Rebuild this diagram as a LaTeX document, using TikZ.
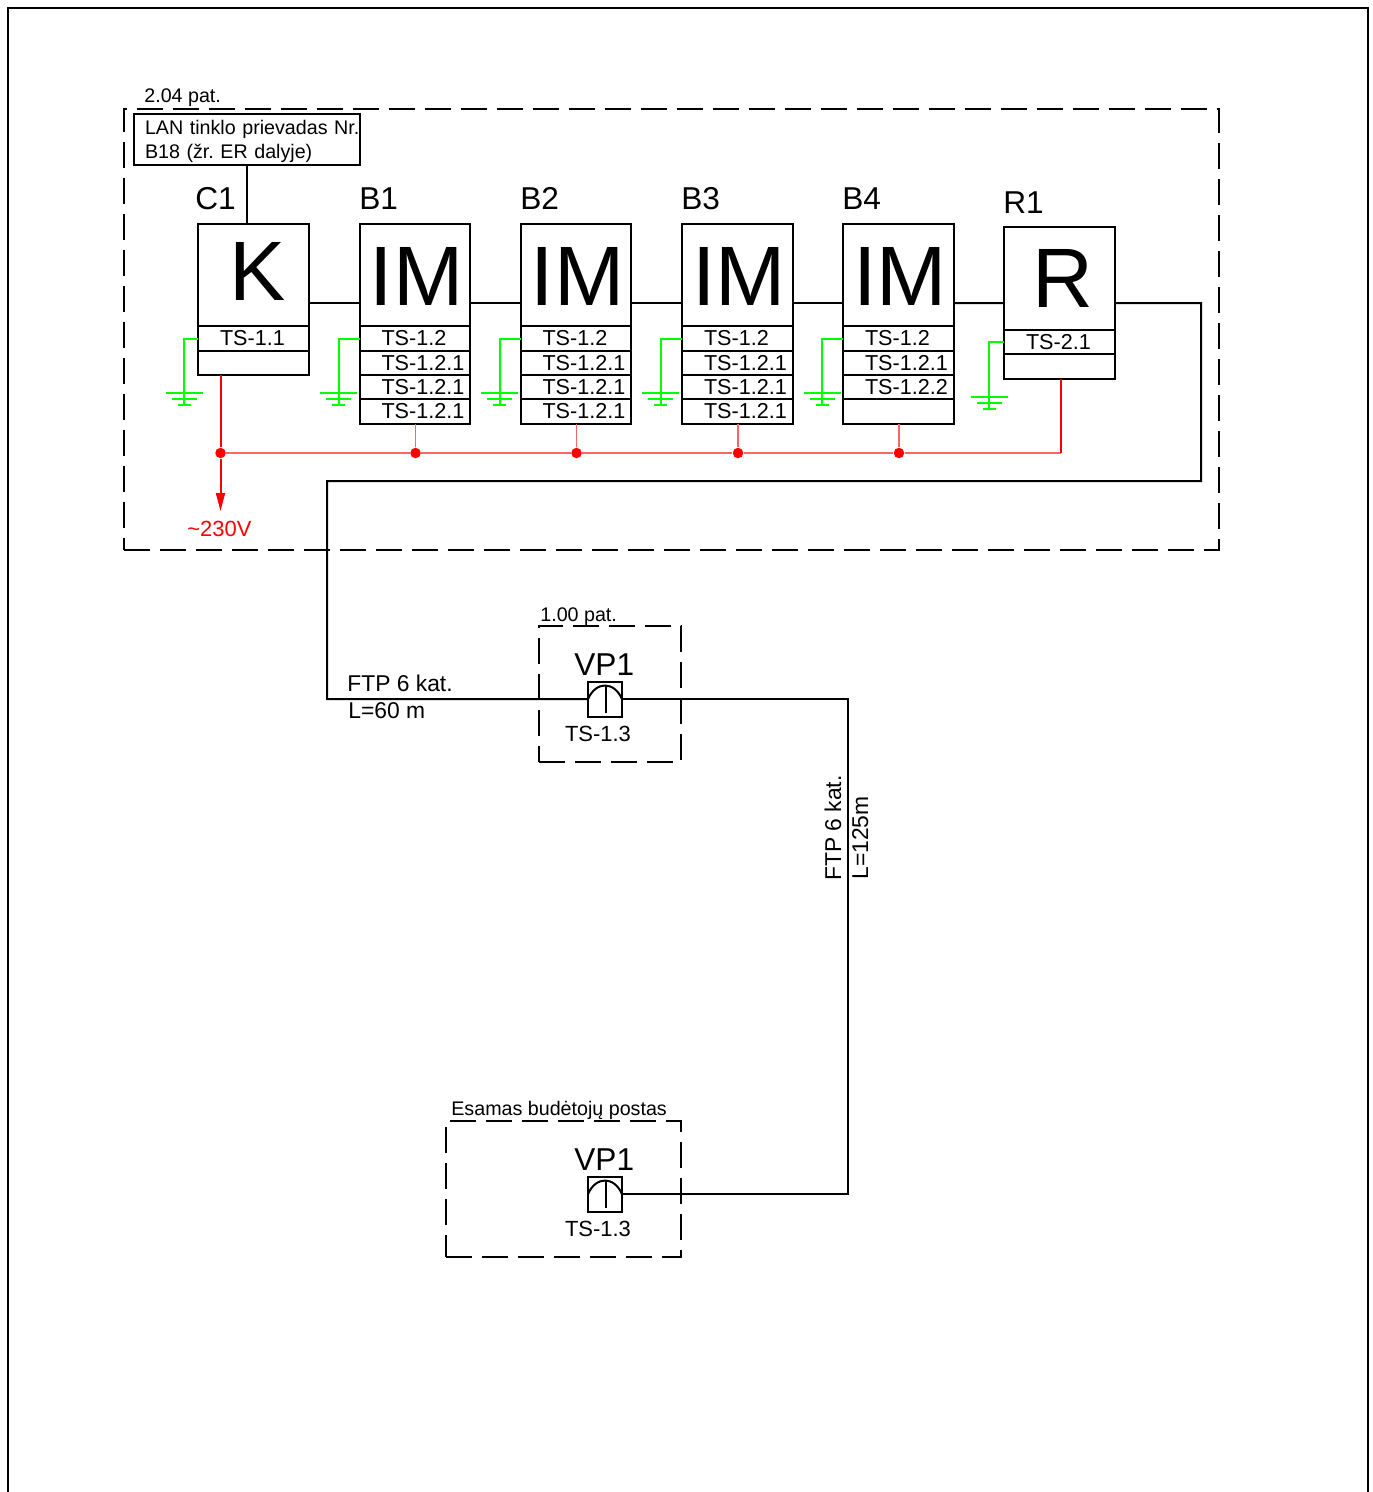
\documentclass[tikz,border=0pt]{standalone}
\usepackage{fontspec}
\setmainfont{Liberation Sans}
\usetikzlibrary{arrows.meta}
\definecolor{redlight}{RGB}{255,100,100}
\tikzset{
  wire/.style={line width=0.04cm,black},
  redthick/.style={line width=0.04cm,red},
  redthin/.style={line width=0.03cm,redlight},
  earthline/.style={line width=0.04cm,green},
  room/.style={draw,line width=0.04cm,dash pattern=on 0.52cm off 0.2cm,inner sep=0pt,outer sep=0pt},
  head/.style={draw,line width=0.04cm,minimum width=2.22cm,inner sep=0pt,outer sep=0pt},
  cell/.style={draw,line width=0.04cm,minimum height=0.49cm,text width=2.22cm,inner xsep=0pt,inner ysep=0pt,outer sep=0pt,align=left,font=\fontsize{12.3}{14}\selectfont,execute at begin node={\hspace*{0.44cm}}},
  bigletter/.style={inner sep=0pt,font=\fontsize{48}{50}\selectfont},
  devname/.style={anchor=base west,inner sep=0pt,font=\fontsize{18}{20}\selectfont},
  small/.style={anchor=base west,inner sep=0pt,font=\fontsize{11.2}{13}\selectfont},
  cablelabel/.style={anchor=base west,inner sep=0pt,font=\fontsize{13}{15}\selectfont},
  dot/.style={circle,fill=red,inner sep=0pt,minimum size=0.21cm},
  socket/.style={draw,line width=0.04cm,minimum width=0.68cm,minimum height=0.7cm,inner sep=0pt,outer sep=0pt},
  pics/earth/.style={code={
    \draw[earthline] (-18.5,-12)-- (18.5,-12);
    \draw[earthline] (-12.5,-6)-- (12.5,-6);
    \draw[earthline] (-6.5,0)-- (6.5,0);
  }}
}
\begin{document}
\begin{tikzpicture}[line cap=butt,line join=miter,x=0.02cm,y=-0.02cm]
\useasboundingbox (0,0) rectangle (1373,1492);
\draw[wire] (8,1492)-- (8,8)-- (1368,8)-- (1368,1492);
% rooms
\node[room,minimum width=21.9cm,minimum height=8.82cm] (room1) at (671.5,329.5) {};
\node[room,minimum width=2.84cm,minimum height=2.72cm] (room2) at (610,694) {};
\node[room,minimum width=4.7cm,minimum height=2.72cm] (room3) at (563.5,1189) {};
\node[small] (room1t) at (144,102) {2.04 pat.};
\node[small] (room2t) at (540,621) {1.00 pat.};
\node[small] (room3t) at (451,1115) {Esamas budėtojų postas};
% LAN
\node[draw,line width=0.04cm,minimum width=4.52cm,minimum height=1.02cm,text width=4.52cm,inner xsep=0pt,inner ysep=0pt,outer sep=0pt,align=left,font=\fontsize{11.2}{13.66}\selectfont] (lan) at (247,139.5) {\rule{0pt}{10.4pt}\hspace*{0.22cm}LAN tinklo prievadas Nr.\\\hspace*{0.22cm}B18 (žr.\ ER dalyje)};
% C1
\node[devname] (c1n) at (195,209) {C1};
\node[head,minimum height=2.04cm] (c1) at (253.5,275) {};
\node[bigletter] (c1t) at (258,271.5) {K};
\node[cell] (c1a) at (253.5,338.5) {TS-1.1};
\node[cell] (c1b) at (253.5,363) {};
% B1
\node[devname] (b1n) at (359,209) {B1};
\node[head,minimum height=2.04cm] (b1) at (415,275) {};
\node[bigletter] (b1t) at (416.5,276.5) {IM};
\node[cell] (b1a) at (415,338.5) {TS-1.2};
\node[cell] (b1b) at (415,363) {TS-1.2.1};
\node[cell] (b1c) at (415,387) {TS-1.2.1};
\node[cell] (b1d) at (415,411.5) {TS-1.2.1};
% B2
\node[devname] (b2n) at (520,209) {B2};
\node[head,minimum height=2.04cm] (b2) at (576,275) {};
\node[bigletter] (b2t) at (577.5,276.5) {IM};
\node[cell] (b2a) at (576,338.5) {TS-1.2};
\node[cell] (b2b) at (576,363) {TS-1.2.1};
\node[cell] (b2c) at (576,387) {TS-1.2.1};
\node[cell] (b2d) at (576,411.5) {TS-1.2.1};
% B3
\node[devname] (b3n) at (681,209) {B3};
\node[head,minimum height=2.04cm] (b3) at (737.5,275) {};
\node[bigletter] (b3t) at (739,276.5) {IM};
\node[cell] (b3a) at (737.5,338.5) {TS-1.2};
\node[cell] (b3b) at (737.5,363) {TS-1.2.1};
\node[cell] (b3c) at (737.5,387) {TS-1.2.1};
\node[cell] (b3d) at (737.5,411.5) {TS-1.2.1};
% B4
\node[devname] (b4n) at (842,209) {B4};
\node[head,minimum height=2.04cm] (b4) at (898.5,275) {};
\node[bigletter] (b4t) at (900,276.5) {IM};
\node[cell] (b4a) at (898.5,338.5) {TS-1.2};
\node[cell] (b4b) at (898.5,363) {TS-1.2.1};
\node[cell] (b4c) at (898.5,387) {TS-1.2.2};
\node[cell] (b4d) at (898.5,411.5) {};
% R1
\node[devname] (r1n) at (1003,213) {R1};
\node[head,minimum height=2.06cm] (r1) at (1059.5,278.5) {};
\node[bigletter] (r1t) at (1063,278.5) {R};
\node[cell] (r1a) at (1059.5,342) {TS-2.1};
\node[cell] (r1b) at (1059.5,366.5) {};
% sockets
\node[devname] (vp1n) at (574,675) {VP1};
\node[socket] (vp1) at (605,699) {};
\node[inner sep=0pt,font=\fontsize{12.5}{14}\selectfont] (vp1t) at (598,734) {TS-1.3};
\node[devname] (vp2n) at (574,1170) {VP1};
\node[socket] (vp2) at (605,1194) {};
\node[inner sep=0pt,font=\fontsize{12.5}{14}\selectfont] (vp2t) at (598,1229) {TS-1.3};
\draw[wire] (vp1.west) .. controls +(8,-18) and +(-8,-18) .. (vp1.east);
\draw[wire] (606,686)-- (606,713);
\draw[wire] (vp2.west) .. controls +(8,-18) and +(-8,-18) .. (vp2.east);
\draw[wire] (606,1181)-- (606,1208);
% cables
\coordinate (t1) at (1201,303);
\coordinate (t2) at (1201,481);
\coordinate (t3) at (327,481);
\coordinate (t4) at (327,699);
\coordinate (t5) at (848,699);
\coordinate (t6) at (848,1194);
\draw[wire] (lan.south)-- (c1.north -| lan.south);
\draw[wire] ([yshift=-0.56cm]c1.east)-- ([yshift=-0.56cm]b1.west);
\draw[wire] ([yshift=-0.56cm]b1.east)-- ([yshift=-0.56cm]b2.west);
\draw[wire] ([yshift=-0.56cm]b2.east)-- ([yshift=-0.56cm]b3.west);
\draw[wire] ([yshift=-0.56cm]b3.east)-- ([yshift=-0.56cm]b4.west);
\draw[wire] ([yshift=-0.56cm]b4.east)-- ([yshift=-0.49cm]r1.west);
\draw[wire] ([yshift=-0.49cm]r1.east)-- (t1)-- (t2)-- (t3)-- (t4)-- (vp1.west);
\draw[wire] (vp1.east)-- (t5)-- (t6)-- (vp2.east);
\node[cablelabel] (cab1a) at (347,691) {FTP 6 kat.};
\node[cablelabel] (cab1b) at (348,718) {L=60 m};
\node[cablelabel,rotate=90] (cab2a) at (841,881) {FTP 6 kat.};
\node[cablelabel,rotate=90] (cab2b) at (868,880) {L=125m};
% power
\node[dot] (d0) at (220.5,453) {};
\node[dot] (d1) at (415.5,453) {};
\node[dot] (d2) at (576.5,453) {};
\node[dot] (d3) at (738,453) {};
\node[dot] (d4) at (899,453) {};
\coordinate (p1) at (1060.5,453);
\coordinate (p2) at (220.5,511);
\draw[redthin] (d0)-- (d1)-- (d2)-- (d3)-- (d4)-- (p1);
\draw[redthin] (d1 |- b1d.south)-- (d1);
\draw[redthin] (d2 |- b2d.south)-- (d2);
\draw[redthin] (d3 |- b3d.south)-- (d3);
\draw[redthin] (d4 |- b4d.south)-- (d4);
\draw[redthick] (p1 |- r1b.south)-- (p1);
\draw[redthick] (d0 |- c1b.south)-- (d0);
\draw[redthick,-{Triangle[length=0.36cm,width=0.18cm]}] (d0)-- (p2);
\node[inner sep=0pt,anchor=base west,red,font=\fontsize{12.5}{14}\selectfont] (mains) at (187,536) {\textasciitilde 230V};
% earth
\coordinate (g1) at (184,405);
\coordinate (g2) at (338.5,405);
\coordinate (g3) at (499.5,405);
\coordinate (g4) at (660.5,405);
\coordinate (g5) at (822,405);
\coordinate (g6) at (989,409);
\draw[earthline] (c1a.west)-| (g1);
\draw[earthline] (b1a.west)-| (g2);
\draw[earthline] (b2a.west)-| (g3);
\draw[earthline] (b3a.west)-| (g4);
\draw[earthline] (b4a.west)-| (g5);
\draw[earthline] (r1a.west)-| (g6);
\pic at (g1) {earth};
\pic at (g2) {earth};
\pic at (g3) {earth};
\pic at (g4) {earth};
\pic at (g5) {earth};
\pic at (g6) {earth};
\end{tikzpicture}
\end{document}
